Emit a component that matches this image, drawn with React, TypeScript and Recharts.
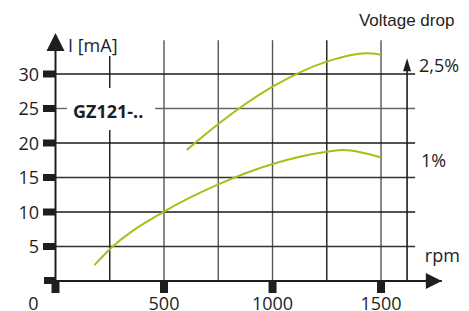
import React from 'react';
import { LineChart, Line, XAxis, YAxis, ReferenceLine, ReferenceDot } from 'recharts';

const rpmTicks = [0, 500, 1000, 1500];
const currentTicks = [0, 5, 10, 15, 20, 25, 30];

// upper curve (voltage drop 2,5%)
const upperCurve = [
  { rpm: 605, current: 19.0 },
  { rpm: 750, current: 22.75 },
  { rpm: 1000, current: 28.16 },
  { rpm: 1250, current: 31.8 },
  { rpm: 1434, current: 33.0 },
  { rpm: 1500, current: 32.8 },
];

// lower curve (voltage drop 1%)
const lowerCurve = [
  { rpm: 179, current: 2.3 },
  { rpm: 250, current: 4.6 },
  { rpm: 500, current: 10.05 },
  { rpm: 750, current: 14.0 },
  { rpm: 1000, current: 16.96 },
  { rpm: 1250, current: 18.74 },
  { rpm: 1326, current: 19.0 },
  { rpm: 1500, current: 17.9 },
];

const verticalGrid = [
  { rpm: 250, from: 0, to: 21.9, color: '#1a1a1a' },
  { rpm: 250, from: 27.97, to: 32.6, color: '#1a1a1a' },
  { rpm: 500, from: 0, to: 34.9, color: '#555' },
  { rpm: 750, from: 0, to: 34.9, color: '#555' },
  { rpm: 1000, from: 0, to: 34.9, color: '#555' },
  { rpm: 1250, from: 0, to: 34.9, color: '#1a1a1a' },
  { rpm: 1500, from: 0, to: 34.9, color: '#555' },
];

const horizontalGrid = [
  { current: 5, from: 0, to: 1657, color: '#333' },
  { current: 10, from: 0, to: 1657, color: '#1a1a1a' },
  { current: 15, from: 0, to: 1657, color: '#333' },
  { current: 20, from: 0, to: 1657, color: '#1a1a1a' },
  { current: 25, from: 0, to: 53, color: '#666' },
  { current: 25, from: 459, to: 1657, color: '#666' },
  { current: 30, from: 0, to: 1657, color: '#1a1a1a' },
];

const notes = [
  { rpm: 1398, current: 36.96, text: 'Voltage drop', font: 'Liberation Sans, Arial, sans-serif', size: 17, weight: 400 },
  { rpm: 57.6, current: 33.19, text: 'I [mA]', font: 'Open Sans, sans-serif', size: 18, weight: 400 },
  { rpm: 80.6, current: 23.62, text: 'GZ121-..', font: 'Open Sans, sans-serif', size: 18, weight: 700 },
  { rpm: 1675, current: 30.29, text: '2,5%', font: 'Open Sans, sans-serif', size: 18, weight: 400 },
  { rpm: 1684, current: 16.52, text: '1%', font: 'Open Sans, sans-serif', size: 18, weight: 400 },
  { rpm: 1702, current: 2.75, text: 'rpm', font: 'Open Sans, sans-serif', size: 18, weight: 400 },
];

const ink = '#1e1e1e';

const YTick = (props: any) => {
  const { x, y, payload } = props;
  if (payload.value === 0) {
    return <rect x={x - 11.5} y={y - 4} width={11.5} height={7} fill={ink} />;
  }
  return (
    <g>
      <rect x={x - 12.5} y={y - 3.5} width={12.5} height={7} fill={ink} />
      <text x={x - 16.5} y={y + 6.5} textAnchor="end" fontFamily="Open Sans, sans-serif" fontSize={18} fill={ink}>
        {payload.value}
      </text>
    </g>
  );
};

const XTick = (props: any) => {
  const { x, y, payload } = props;
  const tx = payload.value === 0 ? x - 22 : x;
  return (
    <g>
      <rect x={x - 4} y={y} width={8} height={12} fill={ink} />
      <text x={tx} y={y + 29} textAnchor="middle" fontFamily="Open Sans, sans-serif" fontSize={18} fill={ink}>
        {payload.value}
      </text>
    </g>
  );
};

const Note = (n: (typeof notes)[number]) => (props: any) => (
  <text x={props.cx} y={props.cy} fontFamily={n.font} fontSize={n.size} fontWeight={n.weight} fill={ink}>
    {n.text}
  </text>
);

export default function App() {
  return (
    <div style={{ position: 'absolute', left: 0, top: 0, width: 469, height: 311, background: '#fff' }}>
      <LineChart width={469} height={311} margin={{ top: 39.5, right: 27.2, bottom: 0, left: 0 }}>
        <XAxis
          type="number"
          dataKey="rpm"
          domain={[0, 1780]}
          ticks={rpmTicks}
          height={30}
          tickSize={0}
          tickMargin={0}
          tick={<XTick />}
          axisLine={{ stroke: ink, strokeWidth: 2 }}
          tickLine={false}
          allowDataOverflow
        />
        <YAxis
          type="number"
          dataKey="current"
          domain={[0, 35]}
          ticks={currentTicks}
          width={55.5}
          tickSize={0}
          tickMargin={0}
          tick={<YTick />}
          axisLine={{ stroke: ink, strokeWidth: 2 }}
          tickLine={false}
          allowDataOverflow
        />
        {verticalGrid.map((g, i) => (
          <ReferenceLine
            key={`v-${i}`}
            segment={[{ x: g.rpm, y: g.from }, { x: g.rpm, y: g.to }]}
            stroke={g.color}
            strokeWidth={1.4}
          />
        ))}
        {horizontalGrid.map((g, i) => (
          <ReferenceLine
            key={`h-${i}`}
            segment={[{ x: g.from, y: g.current }, { x: g.to, y: g.current }]}
            stroke={g.color}
            strokeWidth={1.4}
          />
        ))}
        {/* right voltage drop axis */}
        <ReferenceLine segment={[{ x: 1620, y: 0 }, { x: 1620, y: 30.9 }]} stroke={ink} strokeWidth={1.6} />
        <Line data={upperCurve} dataKey="current" type="monotone" stroke="#9dc41a" strokeWidth={2} dot={false} isAnimationActive={false} />
        <Line data={lowerCurve} dataKey="current" type="monotone" stroke="#9dc41a" strokeWidth={2} dot={false} isAnimationActive={false} />
        {/* arrow heads */}
        <ReferenceDot
          x={0}
          y={35.94}
          ifOverflow="visible"
          shape={(p: any) => <path d={`M${p.cx},${p.cy} L${p.cx + 9},${p.cy + 18} L${p.cx - 9},${p.cy + 18} Z`} fill={ink} />}
        />
        <ReferenceDot
          x={1780}
          y={0}
          ifOverflow="visible"
          shape={(p: any) => <path d={`M${p.cx},${p.cy} L${p.cx - 16},${p.cy - 8} L${p.cx - 16},${p.cy + 8} Z`} fill={ink} />}
        />
        <ReferenceDot
          x={1620}
          y={32.3}
          ifOverflow="visible"
          shape={(p: any) => <path d={`M${p.cx},${p.cy} L${p.cx + 4},${p.cy + 13} L${p.cx - 4},${p.cy + 13} Z`} fill={ink} />}
        />
        {notes.map((n, i) => (
          <ReferenceDot key={`n-${i}`} x={n.rpm} y={n.current} ifOverflow="visible" shape={Note(n)} />
        ))}
      </LineChart>
    </div>
  );
}
